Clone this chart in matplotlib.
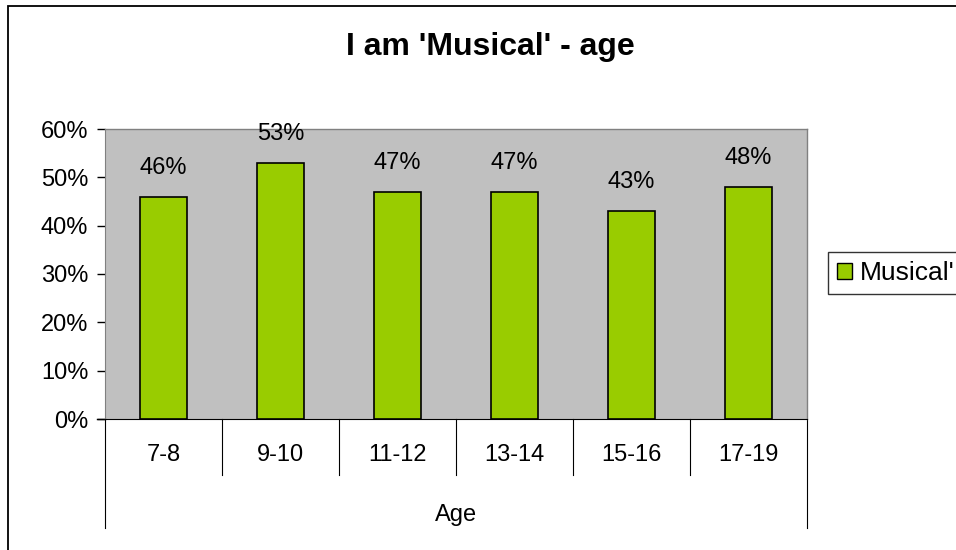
import matplotlib
matplotlib.use("Agg")
import matplotlib.pyplot as plt
from matplotlib.lines import Line2D
from matplotlib.patches import Rectangle

categories = ["7-8", "9-10", "11-12", "13-14", "15-16", "17-19"]
values = [46, 53, 47, 47, 43, 48]
yticks = [0, 10, 20, 30, 40, 50, 60]
title = "I am 'Musical' - age"
xlabel = "Age"
legend_label = "Musical'"

plt.rcParams['font.family'] = ['Liberation Sans', 'DejaVu Sans']

FS = 17

fig = plt.figure(figsize=(9.56, 5.5), dpi=100)
W, H = 956, 550
def fx(px): return px / W
def fy(py): return 1 - py / H

# outer chart border
fig.add_artist(Rectangle((fx(8), fy(1000)), 2, fy(6) - fy(1000), transform=fig.transFigure,
                         fill=False, edgecolor='black', linewidth=1.3))

ax = fig.add_axes([fx(105), fy(419), fx(807) - fx(105), fy(129) - fy(419)])
ax.set_facecolor('#C0C0C0')
x = list(range(len(categories)))
ax.bar(x, values, width=0.41, color='#99CC00', edgecolor='black', linewidth=1.2, zorder=3,
       label=legend_label)
for xi, v in zip(x, values):
    ax.text(xi, v + 6.0, f"{v}%", ha='center', va='center', fontsize=FS)

ax.set_xlim(-0.5, len(categories) - 0.5)
ax.set_ylim(0, 60)
ax.set_yticks(yticks)
ax.set_yticklabels([f"{t}%" for t in yticks], fontsize=FS)
ax.tick_params(axis='y', length=6, width=1, direction='out', pad=6)
ax.set_xticks([])
for s in ['top', 'right']:
    ax.spines[s].set_color('#808080')
    ax.spines[s].set_linewidth(1)
ax.spines['left'].set_color('#808080')
ax.spines['bottom'].set_color('black')

# bottom axis extended left to tick
ax.plot([-0.5 - 8 / 117, -0.5], [0, 0], color='black', lw=1, clip_on=False)

# category labels and separators
trans = ax.get_xaxis_transform()
axh = 419 - 129
for i, c in enumerate(categories):
    ax.text(i, -(455 - 419) / axh, c, ha='center', va='center', fontsize=FS, transform=trans)
for b in range(len(categories) + 1):
    xb = b - 0.5
    end = 528 if b in (0, len(categories)) else 475
    ax.add_line(Line2D([xb, xb], [0, -(end - 419) / axh], color='black', lw=0.8,
                       transform=trans, clip_on=False))
ax.text((len(categories) - 1) / 2, -(515 - 419) / axh, xlabel, ha='center', va='center',
        fontsize=FS, transform=trans)

fig.text(fx(490), fy(47), title, ha='center', va='center',
         fontsize=23, fontweight='bold')

leg = fig.legend(handles=[Rectangle((0, 0), 1, 1, facecolor='#99CC00', edgecolor='black')],
                 labels=[legend_label], loc='center left', bbox_to_anchor=(fx(828), fy(273)),
                 fontsize=19, frameon=True, fancybox=False, handlelength=0.55, handleheight=0.55,
                 handletextpad=0.3, borderpad=0.35, borderaxespad=0)
leg.get_frame().set_edgecolor('black')
leg.get_frame().set_linewidth(1)

fig.savefig("out.png", dpi=100)
